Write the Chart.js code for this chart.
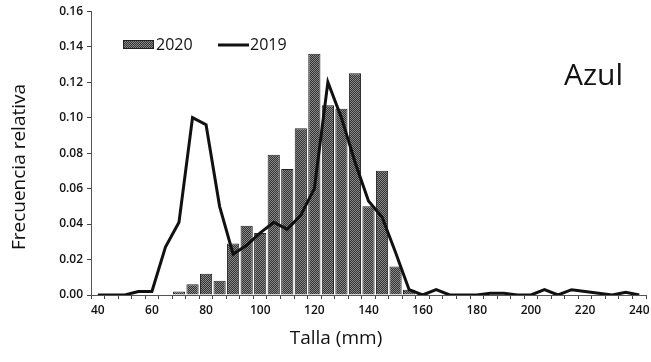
<!DOCTYPE html>
<html>
<head>
<meta charset="utf-8">
<script src="https://cdn.jsdelivr.net/npm/chart.js@4.4.1/dist/chart.umd.min.js"></script>
<style>
  html, body { margin: 0; padding: 0; background: #fff; }
  #wrap { width: 651px; height: 362px; }
</style>
</head>
<body>
<div id="wrap"><canvas id="grafico" width="651" height="362"></canvas></div>
<script>
// Clases de talla (mm), cada 5 mm
const tallas = ['40','45','50','55','60','65','70','75','80','85','90','95','100','105','110','115','120','125','130','135','140','145','150','155','160','165','170','175','180','185','190','195','200','205','210','215','220','225','230','235','240'];

// Frecuencia relativa 2020 (barras)
const frec2020 = [0, 0, 0, 0, 0, 0, 0.002, 0.006, 0.012, 0.008,
                  0.029, 0.039, 0.035, 0.079, 0.071, 0.094, 0.136, 0.107, 0.105, 0.125,
                  0.050, 0.070, 0.016, 0.003, 0.001, 0, 0, 0, 0, 0,
                  0, 0, 0, 0, 0, 0, 0, 0, 0, 0, 0];

// Frecuencia relativa 2019 (linea)
const frec2019 = [0, 0, 0, 0.002, 0.002, 0.027, 0.041, 0.100, 0.096, 0.050,
                  0.023, 0.028, 0.035, 0.041, 0.037, 0.045, 0.060, 0.120, 0.100, 0.075,
                  0.053, 0.044, 0.024, 0.003, 0, 0.003, 0, 0, 0, 0.001,
                  0.001, 0, 0, 0.003, 0, 0.003, 0.002, 0.001, 0, 0.0015, 0];

const etiquetasX = ['40','60','80','100','120','140','160','180','200','220','240'];
const zona = 'Azul';

// trama punteada de las barras
function trama() {
    const c = document.createElement('canvas');
    c.width = 2; c.height = 2;
    const g = c.getContext('2d');
    g.fillStyle = '#333';
    g.fillRect(0, 0, 2, 2);
    g.fillStyle = '#8a8a8a';
    g.fillRect(0, 0, 1, 1);
    g.fillRect(1, 1, 1, 1);
    return g.createPattern(c, 'repeat');
}

const ctx = document.getElementById('grafico').getContext('2d');
const relleno = trama();

// leyenda, titulos de ejes y rotulo dibujados a mano
const extras = {
    id: 'extras',
    afterDraw(chart) {
        const g = chart.ctx;
        g.save();
        g.fillStyle = relleno;
        g.fillRect(123, 40.5, 30, 8);
        g.strokeStyle = '#222';
        g.lineWidth = 1;
        g.strokeRect(123.5, 40.5, 30, 8);
        g.fillStyle = '#111';
        g.font = '16px "Open Sans"';
        g.textBaseline = 'middle';
        g.fillText('2020', 156, 45);
        g.beginPath();
        g.moveTo(218, 45);
        g.lineTo(249, 45);
        g.lineWidth = 3;
        g.strokeStyle = '#111';
        g.stroke();
        g.fillText('2019', 250, 45);
        g.font = '30px "Open Sans"';
        g.fillText(zona, 564, 76);

        g.font = '19px "Open Sans"';
        g.textAlign = 'center';
        g.fillText('Talla (mm)', 336, 339);
        g.translate(20, 167);
        g.rotate(-Math.PI / 2);
        g.fillText('Frecuencia relativa', 0, 0);
        g.restore();
    }
};

new Chart(ctx, {
    type: 'bar',
    data: {
        labels: tallas,
        datasets: [
            {
                type: 'line',
                label: '2019',
                data: frec2019,
                borderColor: '#111',
                borderWidth: 3,
                pointRadius: 0,
                tension: 0,
                order: 0
            },
            {
                label: '2020',
                data: frec2020,
                backgroundColor: relleno,
                borderColor: '#222',
                borderWidth: 1,
                barPercentage: 1,
                categoryPercentage: 0.9,
                order: 1
            }
        ]
    },
    options: {
        responsive: false,
        animation: false,
        layout: { padding: { top: 10, right: 5, left: 0, bottom: 0 } },
        plugins: {
            legend: { display: false },
            tooltip: { enabled: false }
        },
        scales: {
            x: {
                offset: true,
                grid: { offset: true, drawOnChartArea: false, drawTicks: true, tickLength: 4, color: '#444' },
                border: { color: '#555' },
                ticks: {
                    autoSkip: false,
                    maxRotation: 0,
                    padding: 4,
                    color: '#111',
                    font: { family: 'Open Sans', size: 12, weight: '600' },
                    callback: (v, i) => etiquetasX.includes(tallas[i]) ? tallas[i] : ''
                },
                afterFit: s => { s.height = 67; s.paddingLeft = 0; s.paddingRight = 0; }
            },
            y: {
                min: 0,
                max: 0.16,
                grid: { drawOnChartArea: false, drawTicks: true, tickLength: 4, color: '#444' },
                border: { color: '#555' },
                ticks: {
                    stepSize: 0.02,
                    padding: 4,
                    color: '#111',
                    font: { family: 'Open Sans', size: 12, weight: '600' },
                    callback: v => v.toFixed(2)
                },
                afterFit: s => { s.width = 91; }
            }
        }
    },
    plugins: [extras]
});
</script>
</body>
</html>
